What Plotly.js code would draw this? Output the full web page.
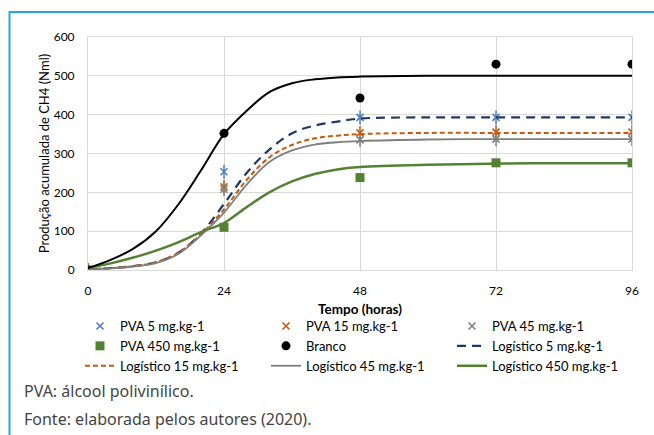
<!DOCTYPE html>
<html>
<head>
<meta charset="utf-8">
<script src="https://cdn.plot.ly/plotly-3.0.1.min.js"></script>
<style>
html,body{margin:0;padding:0;background:#fff;}
#chart{width:654px;height:435px;}
</style>
</head>
<body>
<div id="chart"></div>
<script>
// Observed times (hours)
var tObs = [0, 24, 48, 72, 96];
var pva5 = [0, 253, 393, 393, 393];
var pva15 = [0, 214, 353, 355, 355];
var pva45 = [0, 208, 335, 337, 337];
var pva450 = [0, 110, 238, 276, 276];
var branco = [0, 352, 443, 530, 530];

// Fitted logistic curves
var tFit = [0, 4, 8, 12, 16, 20, 24, 28, 32, 36, 40, 44, 48, 60, 72, 84, 96];
var logBranco = [5, 26, 55, 100, 170, 258, 350, 410, 458, 481, 491, 496, 498, 500, 500, 500, 500];
var log5 = [2, 5, 10, 20, 45, 95, 170, 250, 310, 352, 372, 382, 390, 393, 393, 393, 393];
var log15 = [2, 5, 10, 20, 45, 93, 156, 232, 290, 322, 339, 346, 350, 353, 353, 353, 353];
var log45 = [1, 4, 9, 18, 42, 90, 148, 220, 278, 308, 323, 329, 332, 336, 337, 337, 337];
var log450 = [5, 17, 32, 50, 72, 98, 121, 162, 200, 228, 247, 259, 265, 271, 274, 275, 275];

var xTicks = [0, 24, 48, 72, 96];
var yTicks = [0, 100, 200, 300, 400, 500, 600];

var names = {
  pva5: 'PVA 5 mg.kg-1', pva15: 'PVA 15 mg.kg-1', pva45: 'PVA 45 mg.kg-1',
  pva450: 'PVA 450 mg.kg-1', branco: 'Branco',
  log5: 'Logístico 5 mg.kg-1', log15: 'Logístico 15 mg.kg-1',
  log45: 'Logístico 45 mg.kg-1', log450: 'Logístico 450 mg.kg-1'
};
var caption1 = 'PVA: álcool polivinílico.';
var caption2 = 'Fonte: elaborada pelos autores (2020).';

var cBlue = '#4a7fc1', cOrange = '#c55a11', cGray = '#7f7f7f', cGreen = '#548235', cNavy = '#1f3864';

function star(x, y, name, color, show) {
  return [
    {x: x, y: y, name: name, type: 'scatter', mode: 'markers', showlegend: show,
     marker: {symbol: 'x-thin-open', size: 7, color: color, line: {color: color, width: 1.6}}},
    {x: x, y: y, name: name, type: 'scatter', mode: 'markers', showlegend: false,
     marker: {symbol: 'line-ns-open', size: 10, color: color, line: {color: color, width: 1.5}}}
  ];
}

var traces = [];
traces = traces.concat(star(tObs, pva5, names.pva5, cBlue, true));
traces = traces.concat(star(tObs, pva15, names.pva15, cOrange, true));
traces = traces.concat(star(tObs, pva45, names.pva45, cGray, true));
traces.push({x: tObs, y: pva450, name: names.pva450, type: 'scatter', mode: 'markers',
  marker: {symbol: 'square', size: 9, color: cGreen}});
traces.push({x: tObs, y: branco, name: names.branco, type: 'scatter', mode: 'markers',
  marker: {symbol: 'circle', size: 9, color: '#000'}});
traces.push({x: tFit, y: log5, name: names.log5, type: 'scatter', mode: 'lines',
  line: {color: cNavy, width: 2.2, dash: '9px,6px', shape: 'spline', smoothing: 1}});
traces.push({x: tFit, y: log15, name: names.log15, type: 'scatter', mode: 'lines',
  line: {color: cOrange, width: 2, dash: '5px,3px', shape: 'spline', smoothing: 1}});
traces.push({x: tFit, y: log45, name: names.log45, type: 'scatter', mode: 'lines',
  line: {color: cGray, width: 1.8, shape: 'spline', smoothing: 1}});
traces.push({x: tFit, y: log450, name: names.log450, type: 'scatter', mode: 'lines',
  line: {color: cGreen, width: 2.5, shape: 'spline', smoothing: 1}});
traces.push({x: tFit, y: logBranco, name: 'Logístico Branco', type: 'scatter', mode: 'lines', showlegend: false,
  line: {color: '#000', width: 2, shape: 'spline', smoothing: 1}});

// plot area in pixels
var L = 88, R = 632, T = 37, B = 270;
function px(x) { return (x - L) / (R - L); }
function py(y) { return (B - y) / (B - T); }

var fam = 'Lato, "Liberation Sans", sans-serif';
var borderColor = '#29a3dc';

var layout = {
  width: 654, height: 435,
  margin: {l: L, r: 654 - R, t: T, b: 435 - B},
  paper_bgcolor: '#fff', plot_bgcolor: '#fff',
  font: {family: fam, size: 12, color: '#000'},
  showlegend: true,
  xaxis: {
    range: [0, 96], tickvals: xTicks, ticktext: xTicks.map(String),
    showgrid: true, gridcolor: '#d9d9d9', gridwidth: 1,
    zeroline: false, showline: true, linecolor: '#d9d9d9', mirror: true,
    ticks: 'outside', ticklen: 10, tickcolor: 'rgba(0,0,0,0)',
    tickfont: {family: fam, size: 12, color: '#000'},
    title: {text: '<b>Tempo (horas)</b>', font: {family: fam, size: 13.5, color: '#000'}, standoff: 7},
    automargin: false, fixedrange: true
  },
  yaxis: {
    range: [0, 600], tickvals: yTicks, ticktext: yTicks.map(String),
    showgrid: true, gridcolor: '#d9d9d9', gridwidth: 1,
    zeroline: false, showline: true, linecolor: '#d9d9d9', mirror: true,
    ticks: 'outside', ticklen: 10, tickcolor: 'rgba(0,0,0,0)',
    tickfont: {family: fam, size: 12, color: '#000'},
    title: {text: 'Produção acumulada de CH4 (Nml)', font: {family: fam, size: 13, color: '#000'}, standoff: 1},
    automargin: false, fixedrange: true
  },
  legend: {
    orientation: 'h', x: px(80), xanchor: 'left', y: py(311), yanchor: 'top',
    entrywidth: 141, entrywidthmode: 'pixels',
    font: {family: fam, size: 13, color: '#000'},
    bgcolor: 'rgba(0,0,0,0)', traceorder: 'normal', itemclick: false
  },
  shapes: [
    {type: 'line', xref: 'paper', yref: 'paper', x0: px(9), x1: px(656), y0: py(12), y1: py(12),
     line: {color: borderColor, width: 2}},
    {type: 'line', xref: 'paper', yref: 'paper', x0: px(9.5), x1: px(9.5), y0: py(11), y1: py(437),
     line: {color: borderColor, width: 2}}
  ],
  annotations: [
    {text: caption1, xref: 'paper', yref: 'paper', x: px(22), y: py(391), xanchor: 'left', yanchor: 'middle',
     showarrow: false, font: {family: '"Noto Sans", sans-serif', size: 16, color: '#444'}},
    {text: caption2, xref: 'paper', yref: 'paper', x: px(22), y: py(419), xanchor: 'left', yanchor: 'middle',
     showarrow: false, font: {family: '"Noto Sans", sans-serif', size: 16, color: '#444'}}
  ]
};

Plotly.newPlot('chart', traces, layout, {displayModeBar: false, staticPlot: true});
</script>
</body>
</html>
